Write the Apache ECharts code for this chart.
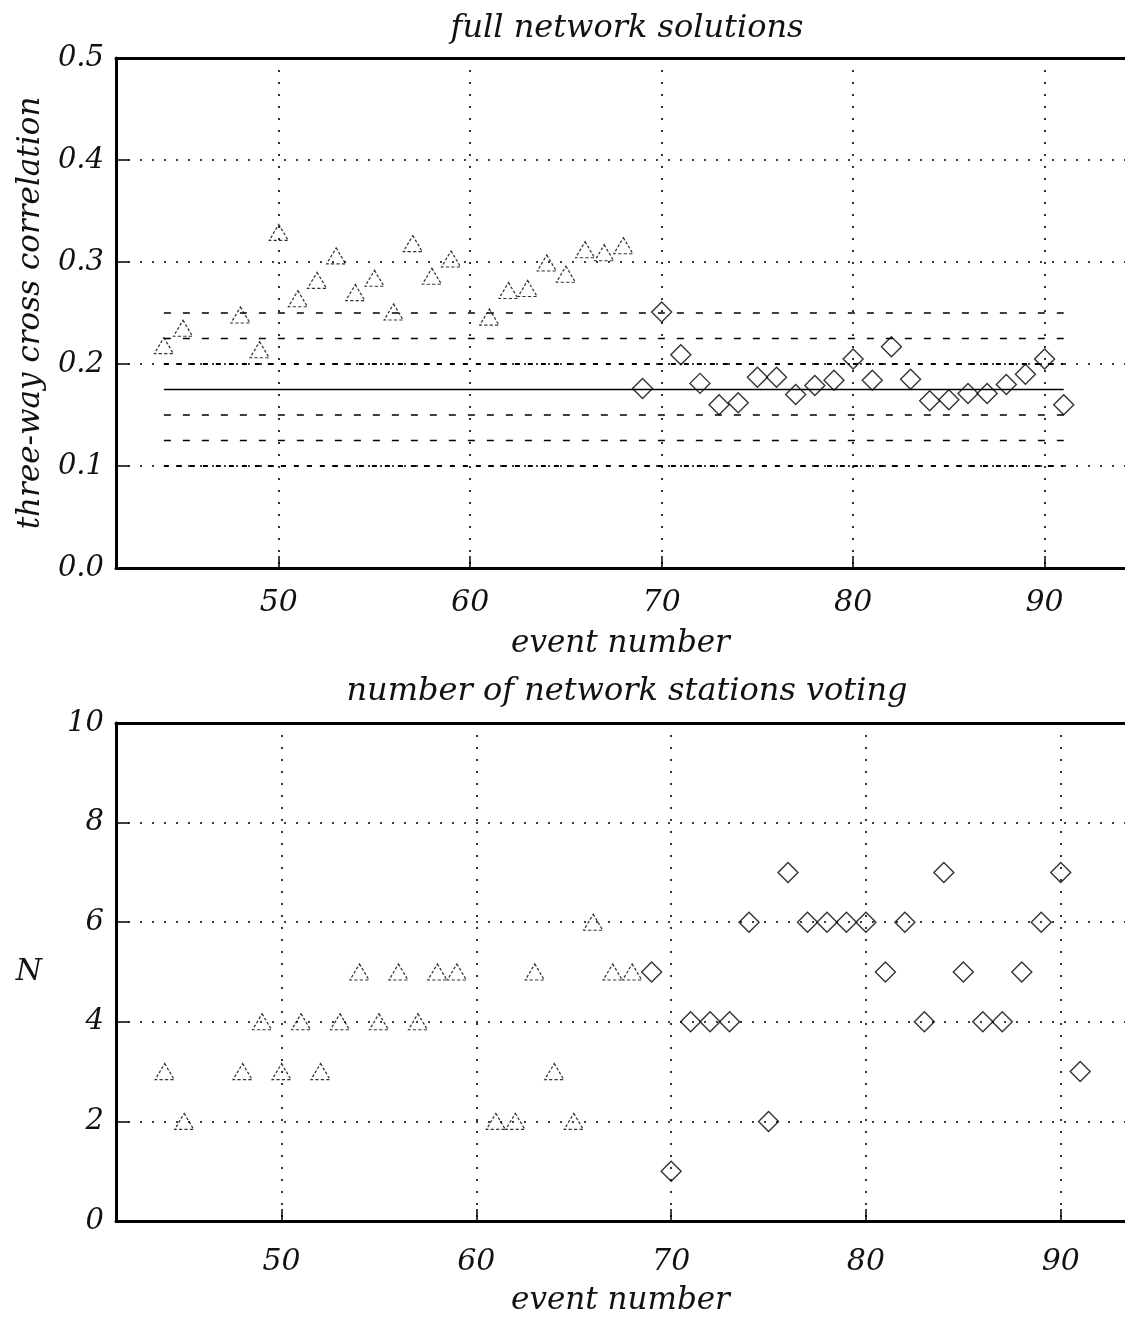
<!DOCTYPE html>
<html>
<head>
<meta charset="utf-8">
<script src="https://cdn.jsdelivr.net/npm/echarts@6/dist/echarts.min.js"></script>
<style>
html,body{margin:0;padding:0;background:#fff;}
#chart{width:1125px;height:1317px;}
</style>
</head>
<body>
<div id="chart"></div>
<script>
// ---- data ----
const topTriEvents = [44,45,48,49,50,51,52,53,54,55,56,57,58,59,61,62,63,64,65,66,67,68];
const topTriCorr   = [0.218,0.235,0.248,0.214,0.329,0.264,0.282,0.306,0.270,0.284,0.251,0.318,0.286,0.303,0.246,0.272,0.274,0.299,0.288,0.312,0.309,0.316];
const topDiaEvents = [69,70,71,72,73,74,75,76,77,78,79,80,81,82,83,84,85,86,87,88,89,90,91];
const topDiaCorr   = [0.176,0.251,0.209,0.181,0.160,0.162,0.187,0.187,0.170,0.179,0.184,0.205,0.184,0.217,0.185,0.164,0.165,0.171,0.171,0.180,0.190,0.205,0.160];

const refMeanLevel = 0.175;
const refInnerLevels = [0.25, 0.225, 0.15, 0.125];
const refOuterLevels = [0.2, 0.1];
const refStartEvent = 44;
const refEndEvent = 91;

const botTriEvents = [44,45,48,49,50,51,52,53,54,55,56,57,58,59,61,62,63,64,65,66,67,68];
const botTriN      = [3,2,3,4,3,4,3,4,5,4,5,4,5,5,2,2,5,3,2,6,5,5];
const botDiaEvents = [69,70,71,72,73,74,75,76,77,78,79,80,81,82,83,84,85,86,87,88,89,90,91];
const botDiaN      = [5,1,4,4,4,6,2,7,6,6,6,6,5,6,4,7,5,4,4,5,6,7,3];

const xTickValues = [50,60,70,80,90];

const titleTop = 'full network solutions';
const titleBot = 'number of network stations voting';
const xName = 'event number';
const yNameTop = 'three-way cross correlation';
const yNameBot = 'N';

// ---- helpers ----
const zip = (a, b) => a.map((v, i) => [v, b[i]]);
const FONT = '"DejaVu Serif", serif';
const txt = (size) => ({fontFamily: FONT, fontStyle: 'italic', fontSize: size, color: '#111'});
const dotted = {color: '#000', width: 1.6, type: [2, 10]};

function xAxisCfg(gridIndex, min, max, nameGap, labelMargin) {
  return {
    type: 'value', gridIndex, min, max, position: 'bottom',
    name: xName, nameLocation: 'middle', nameGap, nameTextStyle: txt(31),
    axisLine: {show: true, onZero: false, lineStyle: {color: '#000', width: 3}},
    axisTick: {show: true, inside: true, length: 12, customValues: xTickValues, lineStyle: {color: '#000', width: 1.5}},
    axisLabel: {customValues: xTickValues, margin: labelMargin, ...txt(30)},
    splitLine: {show: true, lineStyle: dotted}
  };
}
function topBorderAxis(gridIndex, min, max) {
  return {
    type: 'value', gridIndex, min, max, position: 'top',
    axisLine: {show: true, onZero: false, lineStyle: {color: '#000', width: 3}},
    axisTick: {show: false}, axisLabel: {show: false}, splitLine: {show: false}
  };
}

const triStyle = {color: 'rgba(0,0,0,0)', borderColor: '#000', borderWidth: 1.2, borderType: [3, 2]};
const diaStyle = {color: 'rgba(0,0,0,0)', borderColor: '#000', borderWidth: 1.4};

const series = [
  {type: 'scatter', xAxisIndex: 0, yAxisIndex: 0, symbol: 'triangle', symbolSize: [19, 16],
   itemStyle: triStyle, data: zip(topTriEvents, topTriCorr), z: 5},
  {type: 'scatter', xAxisIndex: 0, yAxisIndex: 0, symbol: 'diamond', symbolSize: [20, 20],
   itemStyle: diaStyle, data: zip(topDiaEvents, topDiaCorr), z: 5},
  {type: 'line', xAxisIndex: 0, yAxisIndex: 0, showSymbol: false, symbol: 'none',
   lineStyle: {color: '#000', width: 1.5}, data: [[refStartEvent, refMeanLevel], [refEndEvent, refMeanLevel]]},
];
refInnerLevels.forEach(v => series.push({
  type: 'line', xAxisIndex: 0, yAxisIndex: 0, symbol: 'none',
  lineStyle: {color: '#000', width: 1.5, type: [7, 12]},
  data: [[refStartEvent, v], [refEndEvent, v]]
}));
refOuterLevels.forEach(v => series.push({
  type: 'line', xAxisIndex: 0, yAxisIndex: 0, symbol: 'none',
  lineStyle: {color: '#000', width: 2, type: [5, 8]},
  data: [[refStartEvent, v], [refEndEvent, v]]
}));
series.push(
  {type: 'scatter', xAxisIndex: 2, yAxisIndex: 1, symbol: 'triangle', symbolSize: [19, 16],
   itemStyle: triStyle, data: zip(botTriEvents, botTriN), z: 5},
  {type: 'scatter', xAxisIndex: 2, yAxisIndex: 1, symbol: 'diamond', symbolSize: [20, 20],
   itemStyle: diaStyle, data: zip(botDiaEvents, botDiaN), z: 5}
);

const option = {
  animation: false,
  backgroundColor: '#fff',
  title: [
    {text: titleTop, left: 622, top: 8, textAlign: 'center', textStyle: {...txt(32), fontWeight: 'normal'}},
    {text: titleBot, left: 622, top: 671, textAlign: 'center', textStyle: {...txt(32), fontWeight: 'normal'}}
  ],
  grid: [
    {left: 116, top: 58, width: 1009, height: 510},
    {left: 116, top: 723, width: 1009, height: 506}
  ],
  xAxis: [
    xAxisCfg(0, 41.5, 94.2, 60, 20),
    topBorderAxis(0, 41.5, 94.2),
    xAxisCfg(1, 41.5, 93.3, 64, 26),
    topBorderAxis(1, 41.5, 93.3)
  ],
  yAxis: [
    {type: 'value', gridIndex: 0, min: 0, max: 0.5, interval: 0.1,
     name: yNameTop, nameLocation: 'middle', nameGap: 70, nameRotate: 90, nameTextStyle: txt(31),
     axisLine: {show: true, lineStyle: {color: '#000', width: 3}},
     axisTick: {show: true, inside: true, length: 13, lineStyle: {color: '#000', width: 1.5}},
     axisLabel: {margin: 12, formatter: v => v.toFixed(1), ...txt(29)},
     splitLine: {show: true, lineStyle: dotted}},
    {type: 'value', gridIndex: 1, min: 0, max: 10, interval: 2,
     name: yNameBot, nameLocation: 'middle', nameGap: 74, nameRotate: 0, nameTextStyle: txt(30),
     axisLine: {show: true, lineStyle: {color: '#000', width: 3}},
     axisTick: {show: true, inside: true, length: 13, lineStyle: {color: '#000', width: 1.5}},
     axisLabel: {margin: 12, ...txt(29)},
     splitLine: {show: true, lineStyle: dotted}}
  ],
  series
};

const chart = echarts.init(document.getElementById('chart'), null, {renderer: 'canvas'});
chart.setOption(option);
</script>
</body>
</html>
